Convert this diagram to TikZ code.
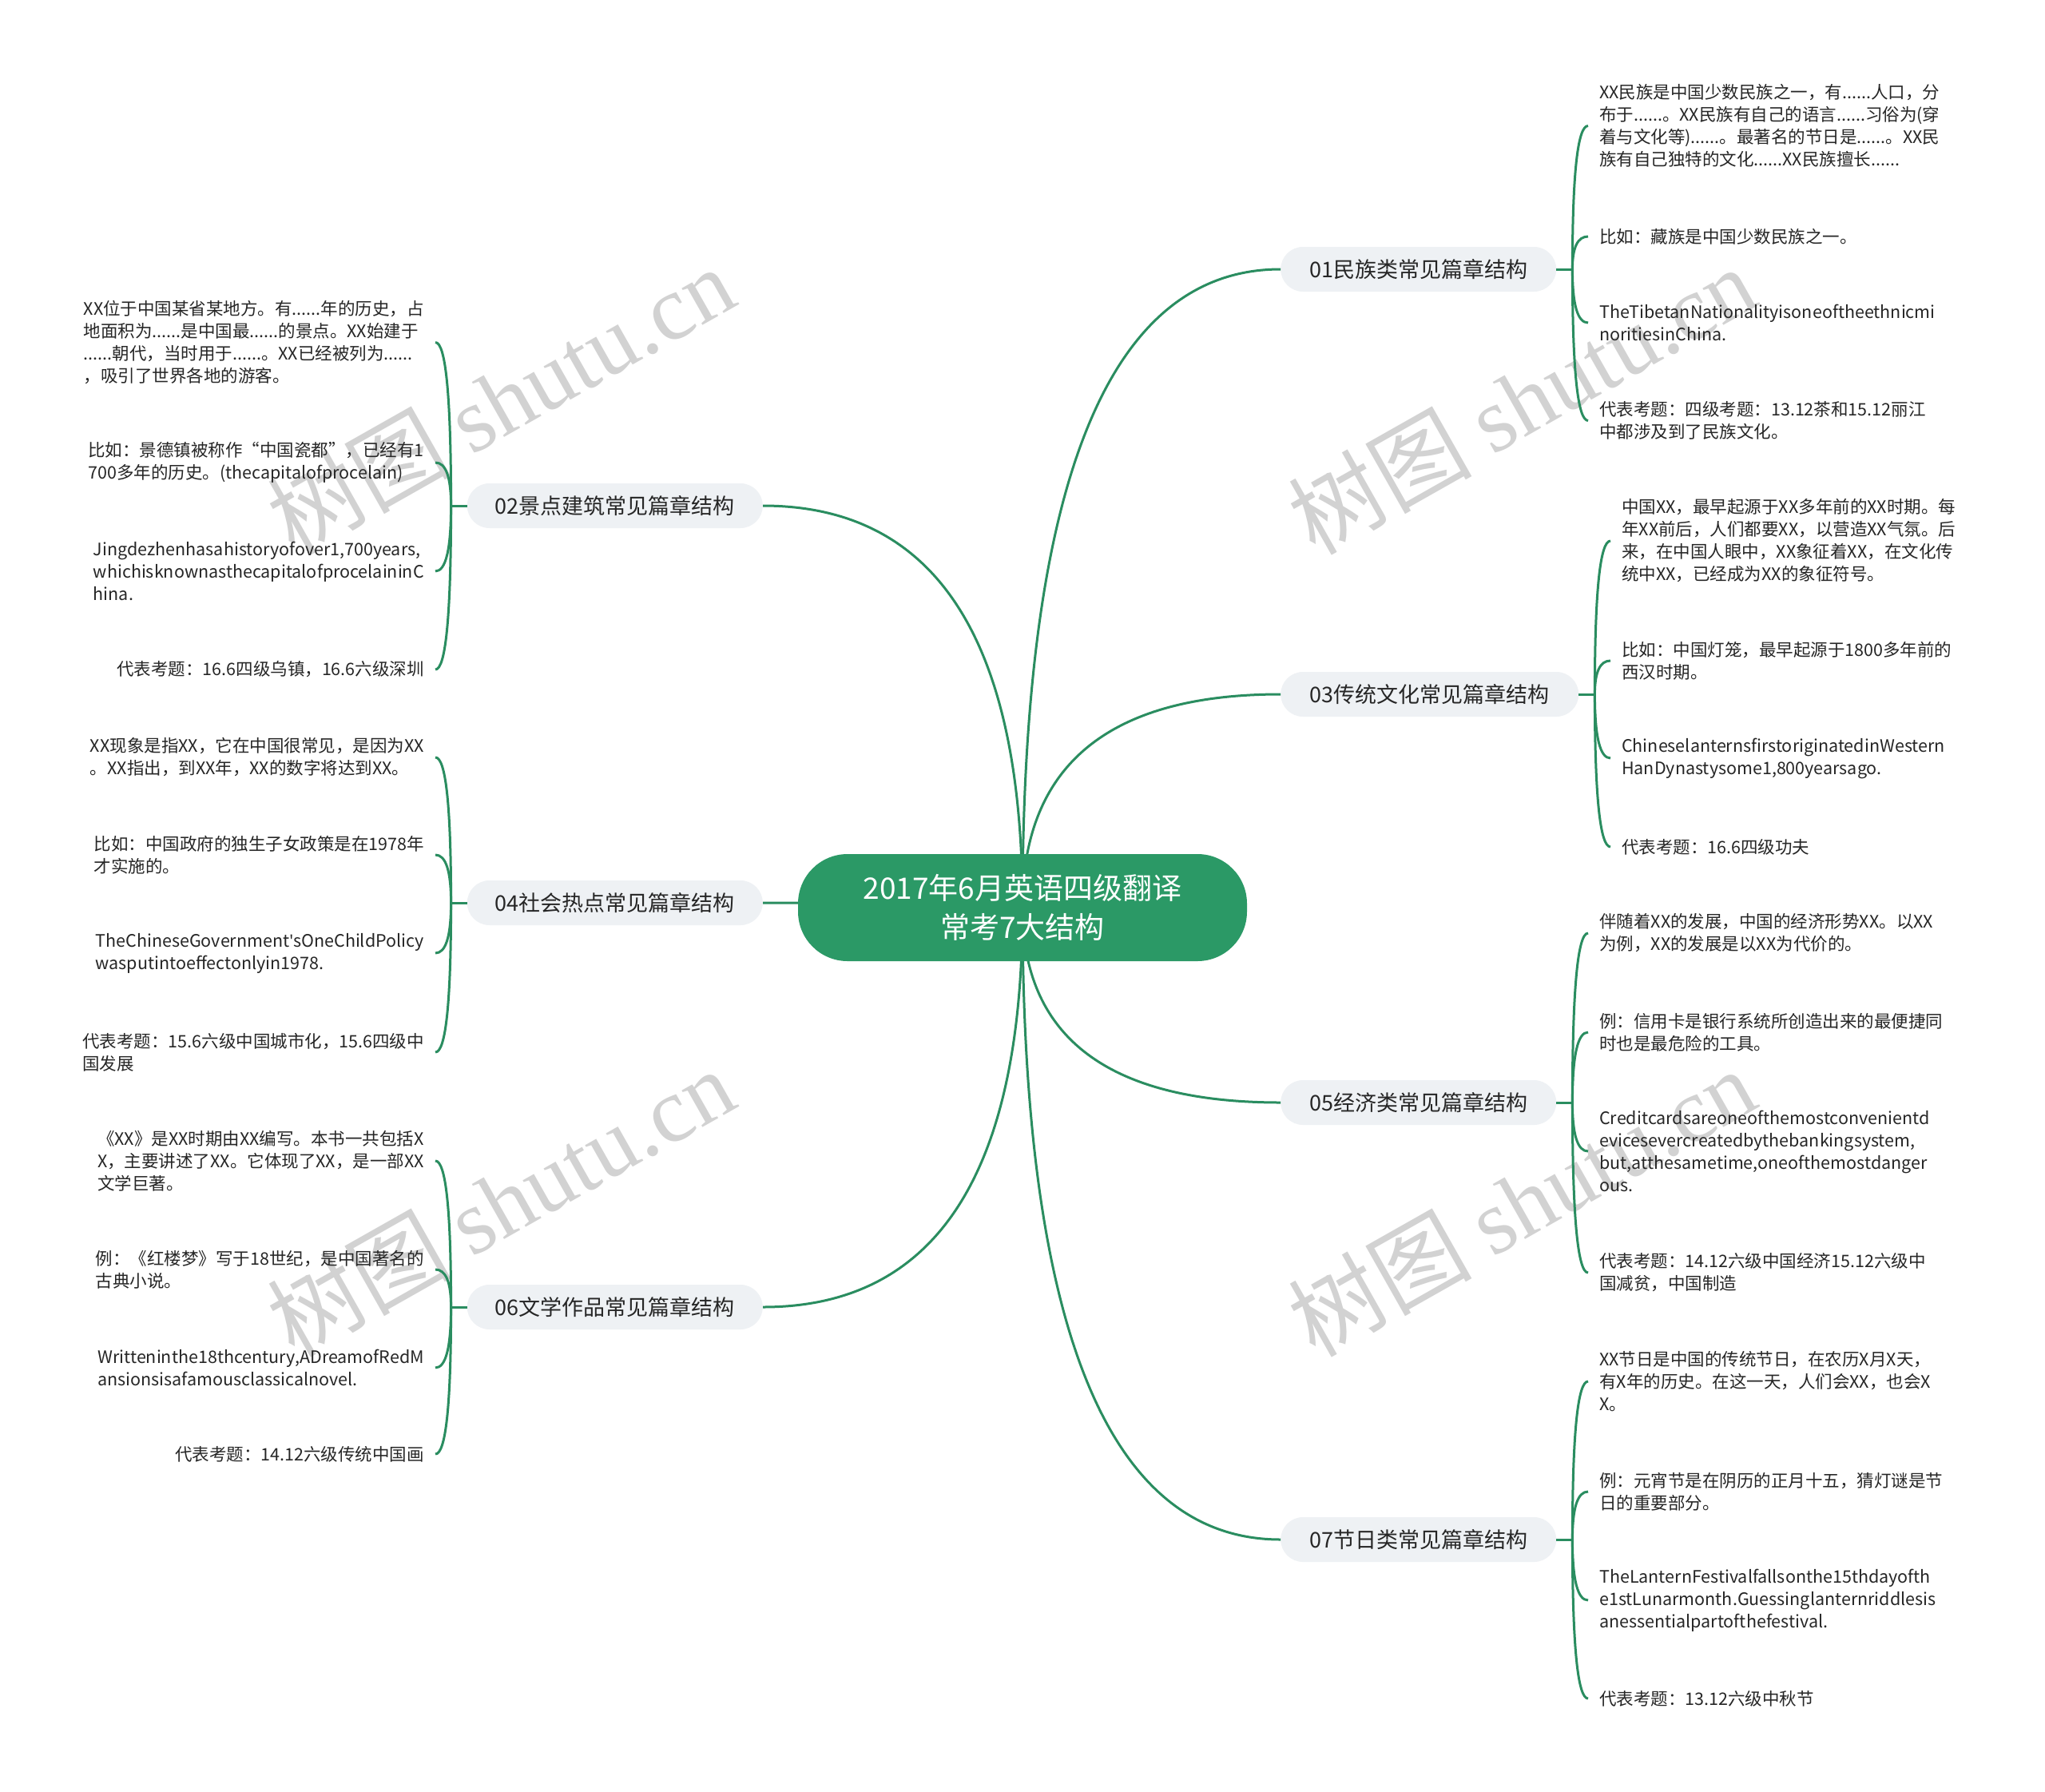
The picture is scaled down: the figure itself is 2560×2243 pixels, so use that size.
\documentclass[tikz,border=0pt]{standalone}
\usepackage{fontspec}
\setmainfont{Noto Sans CJK SC}
\newfontfamily\wmserif{Liberation Serif}
\newfontfamily\latinf{Noto Sans}
\usetikzlibrary{calc}
\definecolor{mgreen}{HTML}{2B9966}
\definecolor{lgreen}{HTML}{2A8D60}
\definecolor{bfill}{HTML}{EEF1F4}
\definecolor{tcol}{HTML}{262626}
\definecolor{wmcol}{HTML}{D2D2D2}
\newcommand\leaffont{\fontsize{21.5}{28}\selectfont}
\newcommand\branchfont{\fontsize{27}{32}\selectfont}
\newcommand\titlefont{\fontsize{37}{49}\selectfont}
\begin{document}
\begin{tikzpicture}[x=1pt,y=-1pt,
  conn/.style={draw=lgreen, line width=3pt},
  qc/.style={to path={.. controls ($(\tikztostart)!0.6667!(\tikztostart |- \tikztotarget)$) and ($(\tikztotarget)!0.6667!(\tikztostart |- \tikztotarget)$) .. (\tikztotarget)}},
  cnode/.style={fill=mgreen, rounded corners=62pt, minimum width=562pt, minimum height=134pt, text=white, align=center, font=\titlefont, inner sep=0pt},
  bnode/.style={fill=bfill, rounded corners=28pt, minimum height=56pt, font=\branchfont, text=tcol, inner xsep=0pt, inner ysep=0pt},
  leafR/.style={anchor=west, align=left, inner xsep=14pt, inner ysep=2pt, font=\leaffont, text=tcol},
  leafL/.style={anchor=east, align=left, inner xsep=14pt, inner ysep=2pt, font=\leaffont, text=tcol},
  wmark/.style={anchor=base west, rotate=29.5, text=wmcol, font=\fontsize{115}{120}\selectfont, inner sep=0pt}
]
\fill[white] (0,0) rectangle (2560,2243);
\useasboundingbox (0,0) rectangle (2560,2243);

% watermarks
\node[wmark] (w1) at (368,697) {树图 {\wmserif shutu.cn}};
\node[wmark] (w2) at (1646,697) {树图 {\wmserif shutu.cn}};
\node[wmark] (w3) at (368,1701) {树图 {\wmserif shutu.cn}};
\node[wmark] (w4) at (1646,1701) {树图 {\wmserif shutu.cn}};

% central and branch nodes
\coordinate (cc) at (1280,1136);
\node[bnode, anchor=west, minimum width=345pt] (b01) at (1603,337) {01民族类常见篇章结构};
\node[bnode, anchor=west, minimum width=373pt] (b03) at (1603,869) {03传统文化常见篇章结构};
\node[bnode, anchor=west, minimum width=345pt] (b05) at (1603,1380) {05经济类常见篇章结构};
\node[bnode, anchor=west, minimum width=345pt] (b07) at (1603,1927) {07节日类常见篇章结构};
\node[bnode, anchor=east, minimum width=370pt] (b02) at (955,633) {02景点建筑常见篇章结构};
\node[bnode, anchor=east, minimum width=370pt] (b04) at (955,1130) {04社会热点常见篇章结构};
\node[bnode, anchor=east, minimum width=370pt] (b06) at (955,1636) {06文学作品常见篇章结构};

% trunk connectors
\draw[conn] (cc) to[qc] (b01.west);
\draw[conn] (cc) to[qc] (b03.west);
\draw[conn] (cc) to[qc] (b05.west);
\draw[conn] (cc) to[qc] (b07.west);
\draw[conn] (cc) to[qc] (b02.east);
\draw[conn] (cc) to[qc] (b04.east);
\draw[conn] (cc) to[qc] (b06.east);

\node[cnode] (c) at (cc) {2017年6月英语四级翻译\\常考7大结构};

% junctions
\coordinate (j01) at ($(b01.east)+(20,0)$);
\coordinate (j03) at ($(b03.east)+(20,0)$);
\coordinate (j05) at ($(b05.east)+(20,0)$);
\coordinate (j07) at ($(b07.east)+(20,0)$);
\coordinate (j02) at ($(b02.west)+(-20,0)$);
\coordinate (j04) at ($(b04.west)+(-20,0)$);
\coordinate (j06) at ($(b06.west)+(-20,0)$);

% ---- branch 01 leaves
\node[leafR] (l011) at (1988,157.5) {XX民族是中国少数民族之一，有......人口，分\\布于......。XX民族有自己的语言......习俗为(穿\\着与文化等)......。最著名的节日是......。XX民\\族有自己独特的文化......XX民族擅长......};
\node[leafR] (l012) at (1988,296) {比如：藏族是中国少数民族之一。};
\node[leafR] (l013) at (1988,404) {TheTibetanNationalityisoneoftheethnicmi\\noritiesinChina.};
\node[leafR] (l014) at (1988,526.5) {代表考题：四级考题：13.12茶和15.12丽江\\中都涉及到了民族文化。};

% ---- branch 03 leaves
\node[leafR] (l031) at (2016,677) {中国XX，最早起源于XX多年前的XX时期。每\\年XX前后，人们都要XX，以营造XX气氛。后\\来，在中国人眼中，XX象征着XX，在文化传\\统中XX，已经成为XX的象征符号。};
\node[leafR] (l032) at (2016,827) {比如：中国灯笼，最早起源于1800多年前的\\西汉时期。};
\node[leafR] (l033) at (2016,949) {ChineselanternsfirstoriginatedinWestern\\HanDynastysome1,800yearsago.};
\node[leafR] (l034) at (2016,1060) {代表考题：16.6四级功夫};

% ---- branch 05 leaves
\node[leafR] (l051) at (1988,1168) {伴随着XX的发展，中国的经济形势XX。以XX\\为例，XX的发展是以XX为代价的。};
\node[leafR] (l052) at (1988,1292) {例：信用卡是银行系统所创造出来的最便捷同\\时也是最危险的工具。};
\node[leafR] (l053) at (1988,1441) {Creditcardsareoneofthemostconvenientd\\evicesevercreatedbythebankingsystem,\\but,atthesametime,oneofthemostdanger\\ous.};
\node[leafR] (l054) at (1988,1593) {代表考题：14.12六级中国经济15.12六级中\\国减贫，中国制造};

% ---- branch 07 leaves
\node[leafR] (l071) at (1988,1729) {XX节日是中国的传统节日，在农历X月X天，\\有X年的历史。在这一天，人们会XX，也会X\\X。};
\node[leafR] (l072) at (1988,1867) {例：元宵节是在阴历的正月十五，猜灯谜是节\\日的重要部分。};
\node[leafR] (l073) at (1988,2003) {TheLanternFestivalfallsonthe15thdayofth\\e1stLunarmonth.Guessinglanternriddlesis\\anessentialpartofthefestival.};
\node[leafR] (l074) at (1988,2126) {代表考题：13.12六级中秋节};

% ---- branch 02 leaves
\node[leafL] (l021) at (545,428.5) {XX位于中国某省某地方。有......年的历史，占\\地面积为......是中国最......的景点。XX始建于\\......朝代，当时用于......。XX已经被列为......\\，吸引了世界各地的游客。};
\node[leafL] (l022) at (545,579) {比如：景德镇被称作“中国瓷都”，已经有1\\700多年的历史。(thecapitalofprocelain)};
\node[leafL] (l023) at (545,715) {Jingdezhenhasahistoryofover1,700years,\\whichisknownasthecapitalofprocelaininC\\hina.};
\node[leafL] (l024) at (545,838) {代表考题：16.6四级乌镇，16.6六级深圳};

% ---- branch 04 leaves
\node[leafL] (l041) at (545,948) {XX现象是指XX，它在中国很常见，是因为XX\\。XX指出，到XX年，XX的数字将达到XX。};
\node[leafL] (l042) at (545,1070) {比如：中国政府的独生子女政策是在1978年\\才实施的。};
\node[leafL] (l043) at (545,1193) {TheChineseGovernment{\latinf'}sOneChildPolicy\\wasputintoeffectonlyin1978.};
\node[leafL] (l044) at (545,1317) {代表考题：15.6六级中国城市化，15.6四级中\\国发展};

% ---- branch 06 leaves
\node[leafL] (l061) at (545,1453) {《XX》是XX时期由XX编写。本书一共包括X\\X，主要讲述了XX。它体现了XX，是一部XX\\文学巨著。};
\node[leafL] (l062) at (545,1589) {例：《红楼梦》写于18世纪，是中国著名的\\古典小说。};
\node[leafL] (l063) at (545,1712) {Writteninthe18thcentury,ADreamofRedM\\ansionsisafamousclassicalnovel.};
\node[leafL] (l064) at (545,1820) {代表考题：14.12六级传统中国画};

% ---- bracket connectors
\foreach \b in {01,03,05,07}{
  \draw[conn] (b\b.east) -- (j\b);
  \foreach \k in {1,2,3,4}{
    \draw[conn] (j\b) to[qc] (l\b\k.west);
  }
}
\foreach \b in {02,04,06}{
  \draw[conn] (b\b.west) -- (j\b);
  \foreach \k in {1,2,3,4}{
    \draw[conn] (j\b) to[qc] (l\b\k.east);
  }
}
\end{tikzpicture}
\end{document}
